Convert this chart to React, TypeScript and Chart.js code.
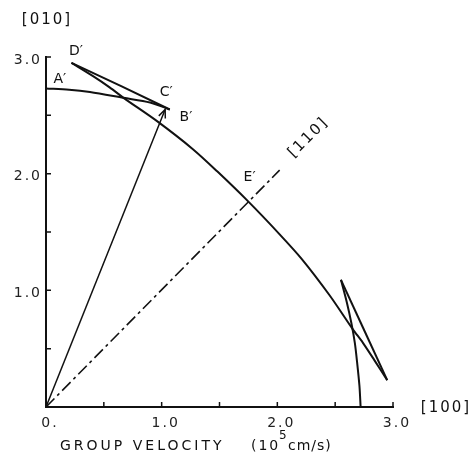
import React, { useEffect, useRef } from "react";
import { Chart, registerables } from "chart.js";

Chart.register(...registerables);

type Pt = { x: number; y: number };

// Group-velocity sheet, in units of 10^5 cm/s.
// A' -> B' : upper branch starting on the [010] axis
const branchAB: Pt[] = [
  { x: 0.0, y: 2.73 },
  { x: 0.2, y: 2.72 },
  { x: 0.38, y: 2.7 },
  { x: 0.67, y: 2.65 },
  { x: 0.9, y: 2.61 },
  { x: 1.07, y: 2.55 },
];
// B' -> D' : fold between the two cusps
const foldBD: Pt[] = [
  { x: 1.07, y: 2.55 },
  { x: 0.65, y: 2.75 },
  { x: 0.22, y: 2.95 },
];
// D' -> E' -> D'' : main branch crossing the [110] direction
const branchDED: Pt[] = [
  { x: 0.22, y: 2.95 },
  { x: 0.4, y: 2.84 },
  { x: 0.55, y: 2.74 },
  { x: 0.67, y: 2.65 },
  { x: 0.96, y: 2.45 },
  { x: 1.27, y: 2.21 },
  { x: 1.48, y: 2.02 },
  { x: 1.75, y: 1.76 },
  { x: 2.02, y: 1.48 },
  { x: 2.21, y: 1.27 },
  { x: 2.45, y: 0.96 },
  { x: 2.65, y: 0.67 },
  { x: 2.74, y: 0.55 },
  { x: 2.84, y: 0.4 },
  { x: 2.95, y: 0.23 },
];
// D'' -> B'' : fold near the [100] axis
const foldDB: Pt[] = [
  { x: 2.95, y: 0.23 },
  { x: 2.75, y: 0.66 },
  { x: 2.55, y: 1.09 },
];
// B'' -> A'' : branch ending on the [100] axis
const branchBA: Pt[] = [
  { x: 2.55, y: 1.09 },
  { x: 2.6, y: 0.9 },
  { x: 2.64, y: 0.72 },
  { x: 2.67, y: 0.55 },
  { x: 2.69, y: 0.38 },
  { x: 2.71, y: 0.18 },
  { x: 2.72, y: 0.0 },
];
// Group-velocity vector O -> C'
const vectorOC: Pt[] = [
  { x: 0, y: 0 },
  { x: 1.03, y: 2.55 },
];
// [110] direction
const dir110: Pt[] = [
  { x: 0, y: 0 },
  { x: 2.02, y: 2.03 },
];

const xTickValues = [0, 1, 2, 3];
const xTickLabels = ["0.", "1.0", "2.0", "3.0"];
const yTickValues = [1, 2, 3];
const yTickLabels = ["1.0", "2.0", "3.0"];

const pointLabels = [
  { text: "A\u2032", x: 0.12, y: 2.81 },
  { text: "D\u2032", x: 0.26, y: 3.05 },
  { text: "C\u2032", x: 1.04, y: 2.7 },
  { text: "B\u2032", x: 1.21, y: 2.48 },
  { text: "E\u2032", x: 1.76, y: 1.97 },
];

const INK = "#111";
const FONT = '"DejaVu Sans", sans-serif';

const decorations = {
  id: "decorations",
  beforeLayout(chart: any) {
    chart.ctx.letterSpacing = "2px";
  },
  beforeDraw(chart: any) {
    chart.ctx.letterSpacing = "2px";
  },
  afterDatasetsDraw(chart: any) {
    const { ctx, chartArea } = chart;
    const xs = chart.scales.x;
    const ys = chart.scales.y;
    ctx.save();
    ctx.strokeStyle = INK;
    ctx.fillStyle = INK;
    ctx.lineCap = "butt";

    // inward tick marks
    ctx.lineWidth = 1.5;
    ctx.beginPath();
    xs.ticks.forEach((t: any) => {
      if (t.value === 0) return;
      const px = xs.getPixelForValue(t.value);
      ctx.moveTo(px, chartArea.bottom);
      ctx.lineTo(px, chartArea.bottom - 5);
    });
    ys.ticks.forEach((t: any) => {
      if (t.value === 0) return;
      const py = ys.getPixelForValue(t.value);
      ctx.moveTo(chartArea.left, py);
      ctx.lineTo(chartArea.left + 5, py);
    });
    ctx.stroke();

    // arrow head on the O -> C' vector
    const tail = vectorOC[0];
    const tip = vectorOC[vectorOC.length - 1];
    const tx = xs.getPixelForValue(tip.x);
    const ty = ys.getPixelForValue(tip.y);
    const ox = xs.getPixelForValue(tail.x);
    const oy = ys.getPixelForValue(tail.y);
    const a = Math.atan2(ty - oy, tx - ox);
    const len = 9;
    ctx.lineWidth = 1.5;
    ctx.beginPath();
    ctx.moveTo(tx - len * Math.cos(a - 0.4), ty - len * Math.sin(a - 0.4));
    ctx.lineTo(tx, ty);
    ctx.lineTo(tx - len * Math.cos(a + 0.4), ty - len * Math.sin(a + 0.4));
    ctx.stroke();

    // point labels
    ctx.font = `14px ${FONT}`;
    ctx.letterSpacing = "0px";
    ctx.textAlign = "center";
    ctx.textBaseline = "middle";
    pointLabels.forEach((l) => {
      ctx.fillText(l.text, xs.getPixelForValue(l.x), ys.getPixelForValue(l.y));
    });

    // [110] label along the diagonal
    ctx.save();
    ctx.translate(xs.getPixelForValue(2.27), ys.getPixelForValue(2.31));
    ctx.rotate(-Math.PI / 4);
    ctx.font = `15px ${FONT}`;
    ctx.letterSpacing = "2px";
    ctx.fillText("[110]", 0, 0);
    ctx.restore();

    // crystal axis labels
    ctx.font = `15px ${FONT}`;
    ctx.letterSpacing = "2px";
    ctx.textAlign = "center";
    ctx.fillText("[010]", chartArea.left + 1, 20);
    ctx.fillText("[100]", chartArea.right + 53, chartArea.bottom + 1);

    // axis title
    ctx.font = `14px ${FONT}`;
    ctx.letterSpacing = "3px";
    ctx.textAlign = "left";
    ctx.textBaseline = "alphabetic";
    const base = chartArea.bottom + 43;
    ctx.fillText("GROUP VELOCITY", 60, base);
    ctx.letterSpacing = "2px";
    ctx.fillText("(10", 251, base);
    ctx.font = `12px ${FONT}`;
    ctx.fillText("5", 279, base - 11);
    ctx.font = `14px ${FONT}`;
    ctx.letterSpacing = "1px";
    ctx.fillText("cm/s)", 288, base);

    ctx.restore();
  },
};

function lineDataset(data: Pt[], extra: any = {}) {
  return {
    data,
    showLine: true,
    borderColor: INK,
    borderWidth: 2,
    pointRadius: 0,
    tension: 0,
    clip: false,
    ...extra,
  };
}

export default function App() {
  const canvasRef = useRef<HTMLCanvasElement | null>(null);

  useEffect(() => {
    if (!canvasRef.current) return;
    const chart = new Chart(canvasRef.current, {
      type: "scatter",
      data: {
        datasets: [
          lineDataset(branchAB, { tension: 0.3 }),
          lineDataset(foldBD),
          lineDataset(branchDED, { tension: 0.3 }),
          lineDataset(foldDB),
          lineDataset(branchBA, { tension: 0.3 }),
          lineDataset(vectorOC, { borderWidth: 1.5 }),
          lineDataset(dir110, { borderWidth: 1.6, borderDash: [12, 4, 3, 4] }),
        ],
      },
      options: {
        animation: false,
        responsive: false,
        devicePixelRatio: 1,
        layout: { padding: { left: 0, top: 57, right: 82, bottom: 0 } },
        plugins: {
          legend: { display: false },
          tooltip: { enabled: false },
        },
        scales: {
          x: {
            type: "linear",
            min: 0,
            max: 3,
            grid: { display: false, drawTicks: false },
            border: { display: true, color: INK, width: 2 },
            ticks: {
              stepSize: 0.5,
              autoSkip: false,
              maxRotation: 0,
              padding: 8,
              labelOffset: 4,
              color: "#222",
              font: { family: FONT, size: 14 },
              callback: (v: any) => {
                const i = xTickValues.indexOf(Number(v));
                return i >= 0 ? xTickLabels[i] : "";
              },
            },
            afterFit: (s: any) => {
              s.height = 60;
              s.paddingLeft = 0;
              s.paddingRight = 0;
            },
          },
          y: {
            type: "linear",
            min: 0,
            max: 3,
            grid: { display: false, drawTicks: false },
            border: { display: true, color: INK, width: 2 },
            ticks: {
              stepSize: 0.5,
              autoSkip: false,
              padding: 4,
              labelOffset: 3,
              color: "#222",
              font: { family: FONT, size: 14 },
              callback: (v: any) => {
                const i = yTickValues.indexOf(Number(v));
                return i >= 0 ? yTickLabels[i] : "";
              },
            },
            afterFit: (s: any) => {
              s.width = 46;
              s.paddingTop = 0;
              s.paddingBottom = 0;
            },
          },
        },
      },
      plugins: [decorations],
    });
    return () => chart.destroy();
  }, []);

  return (
    <div style={{ position: "absolute", left: 0, top: 0, width: 475, height: 467, background: "#fff" }}>
      <canvas ref={canvasRef} width={475} height={467} />
    </div>
  );
}
